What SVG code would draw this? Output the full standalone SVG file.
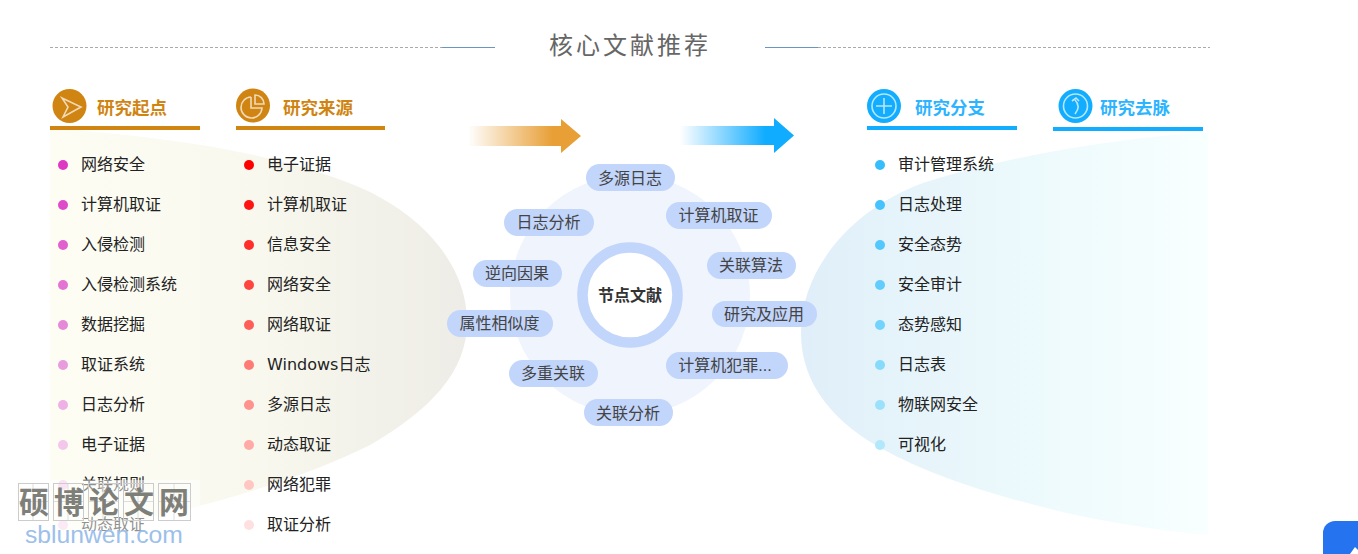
<svg xmlns="http://www.w3.org/2000/svg" width="1358" height="554" viewBox="0 0 1358 554">
<style>
text{font-family:"Liberation Sans","Noto Sans CJK SC",sans-serif}
.i{font-size:16px;fill:#222}
.h{font-size:17.500px;font-weight:700}
.o{fill:#d08411}.b{fill:#12adff}
.p{fill:#c2d5fb}
.t{font-size:16px;fill:#444;text-anchor:middle}
.w{fill:none;stroke:#ccc;stroke-width:1}
.wl{fill:none;stroke:#ddd;stroke-width:1}
.wt{font-size:30px;font-weight:700;fill:#7f7f7a;text-anchor:middle}
.ic{fill:none;stroke:#fff;stroke-opacity:.7;stroke-width:1.600}
</style>
<defs>
<linearGradient id="gl" gradientUnits="userSpaceOnUse" x1="50" x2="467" y1="0" y2="0"><stop offset="0" stop-color="#fdfdf4"/><stop offset=".5" stop-color="#f8f8ee"/><stop offset="1" stop-color="#eeece6"/></linearGradient>
<linearGradient id="gr" gradientUnits="userSpaceOnUse" x1="801" x2="1208" y1="0" y2="0"><stop offset="0" stop-color="#e0eef9"/><stop offset=".5" stop-color="#ebf9fc"/><stop offset="1" stop-color="#f8ffff"/></linearGradient>
<linearGradient id="ao" x1="0" x2="1" y1="0" y2="0"><stop offset="0" stop-color="#e89f35" stop-opacity="0"/><stop offset=".75" stop-color="#e89f35"/></linearGradient>
<linearGradient id="ab" x1="0" x2="1" y1="0" y2="0"><stop offset="0" stop-color="#10acff" stop-opacity="0"/><stop offset=".75" stop-color="#10acff"/></linearGradient>
</defs>

<g id="title">
<path d="M50 47.500H442M818 47.500H1210" stroke="#aaa" stroke-dasharray="3 2" fill="none"/>
<path d="M442 47.500H495M765 47.500H818" stroke="#6a97c0" fill="none"/>
<text x="630" y="54" font-size="24" letter-spacing="3" fill="#666" text-anchor="middle">核心文献推荐</text>
</g>

<g id="backgrounds">
<path d="M50 128C180 138 290 155 370 192C430 222 467 270 467 322C467 372 430 410 370 445C300 480 180 518 50 535Z" fill="url(#gl)"/>
<path d="M1208 132C1120 138 1010 155 923 183C850 210 801 270 801 333C801 385 835 425 890 453C960 490 1090 525 1208 535Z" fill="url(#gr)"/>
</g>

<g id="col-qidian">
<rect x="50" y="126" width="150" height="4" class="o"/>
<circle cx="69.500" cy="106" r="17" class="o"/>
<path d="M62 98L81 107L63 117L68 107Z" class="ic"/>
<text x="97" y="114" class="h o">研究起点</text>
<g id="list-qidian">
<circle cx="63" cy="165" r="5" fill="#de37c4"/><text x="81" y="170" class="i">网络安全</text>
<circle cx="63" cy="205" r="5" fill="#df4cc9"/><text x="81" y="210" class="i">计算机取证</text>
<circle cx="63" cy="245" r="5" fill="#e160ce"/><text x="81" y="250" class="i">入侵检测</text>
<circle cx="63" cy="285" r="5" fill="#e474d3"/><text x="81" y="290" class="i">入侵检测系统</text>
<circle cx="63" cy="325" r="5" fill="#e688d8"/><text x="81" y="330" class="i">数据挖掘</text>
<circle cx="63" cy="365" r="5" fill="#e99cdd"/><text x="81" y="370" class="i">取证系统</text>
<circle cx="63" cy="405" r="5" fill="#efb0e6"/><text x="81" y="410" class="i">日志分析</text>
<circle cx="63" cy="445" r="5" fill="#f4c6ec"/><text x="81" y="450" class="i">电子证据</text>
<circle cx="63" cy="485" r="5" fill="#f4c6e8"/><text x="81" y="490" class="i">关联规则</text>
<circle cx="63" cy="525" r="5" fill="#f6d2ea"/><text x="81" y="530" class="i">动态取证</text>
</g>
</g>

<g id="col-laiyuan">
<rect x="236" y="126" width="149" height="4" class="o"/>
<circle cx="253" cy="105.500" r="17" class="o"/>
<path d="M251 97A10.500 10.500 0 1 0 262 108H251V97M255 95A9 9 0 0 1 264 104H255Z" class="ic"/>
<text x="283" y="114" class="h o">研究来源</text>
<circle cx="249" cy="165" r="5" fill="#ff0000"/><text x="267" y="170" class="i">电子证据</text>
<circle cx="249" cy="205" r="5" fill="#ff1414"/><text x="267" y="210" class="i">计算机取证</text>
<circle cx="249" cy="245" r="5" fill="#ff2e2a"/><text x="267" y="250" class="i">信息安全</text>
<circle cx="249" cy="285" r="5" fill="#ff4540"/><text x="267" y="290" class="i">网络安全</text>
<circle cx="249" cy="325" r="5" fill="#ff5e58"/><text x="267" y="330" class="i">网络取证</text>
<circle cx="249" cy="365" r="5" fill="#ff7a74"/><text x="267" y="370" class="i"><tspan font-family="DejaVu Sans">Windows</tspan>日志</text>
<circle cx="249" cy="405" r="5" fill="#ff928c"/><text x="267" y="410" class="i">多源日志</text>
<circle cx="249" cy="445" r="5" fill="#ffaaa6"/><text x="267" y="450" class="i">动态取证</text>
<circle cx="249" cy="485" r="5" fill="#ffc6c2"/><text x="267" y="490" class="i">网络犯罪</text>
<circle cx="249" cy="525" r="5" fill="#ffe0e0"/><text x="267" y="530" class="i">取证分析</text>
</g>

<g id="connectors">
<path d="M468 126H561V119L581 136L561 153V146H468Z" fill="url(#ao)"/>
<path d="M680 126H774V118L794 135.500L774 153V145H680Z" fill="url(#ab)"/>
</g>

<g id="hub">
<circle cx="630" cy="295" r="120" fill="#eff4fd"/>
<circle cx="630" cy="295" r="47.500" fill="#fff" stroke="#c2d5fb" stroke-width="10.500"/>
<text x="630" y="301" font-size="16" font-weight="700" fill="#333" text-anchor="middle">节点文献</text>
</g>
<g id="n1"><rect x="586" y="164" width="89" height="27" rx="13.500" class="p"/><text x="630" y="184" class="t">多源日志</text></g>
<g id="n2"><rect x="666" y="202" width="106" height="27" rx="13.500" class="p"/><text x="718.500" y="221" class="t">计算机取证</text></g>
<g id="n3"><rect x="504" y="209" width="90" height="27" rx="13.500" class="p"/><text x="548.500" y="228" class="t">日志分析</text></g>
<g id="n4"><rect x="707" y="252" width="89" height="27" rx="13.500" class="p"/><text x="751" y="271" class="t">关联算法</text></g>
<g id="n5"><rect x="473" y="260" width="89" height="27" rx="13.500" class="p"/><text x="517" y="279" class="t">逆向因果</text></g>
<g id="n6"><rect x="712" y="301" width="105" height="26" rx="13" class="p"/><text x="764" y="320" class="t">研究及应用</text></g>
<g id="n7"><rect x="447" y="310" width="106" height="27" rx="13.500" class="p"/><text x="499.500" y="329" class="t">属性相似度</text></g>
<g id="n8"><rect x="666" y="352" width="122" height="27" rx="13.500" class="p"/><text x="725" y="371" class="t">计算机犯罪...</text></g>
<g id="n9"><rect x="509" y="360" width="89" height="27" rx="13.500" class="p"/><text x="553" y="379" class="t">多重关联</text></g>
<g id="n10"><rect x="584" y="399" width="89" height="27" rx="13.500" class="p"/><text x="628" y="419" class="t">关联分析</text></g>

<g id="col-fenzhi">
<rect x="867" y="126" width="150" height="4" class="b"/>
<circle cx="884" cy="106" r="17" class="b"/>
<circle cx="884" cy="106" r="12" class="ic"/><path d="M884 98V114M876 106H892" class="ic"/>
<text x="915" y="114" class="h" fill="#2db4ff">研究分支</text>
<circle cx="880" cy="165" r="5" fill="#38bdfb"/><text x="898" y="170" class="i">审计管理系统</text>
<circle cx="880" cy="205" r="5" fill="#46c3fd"/><text x="898" y="210" class="i">日志处理</text>
<circle cx="880" cy="245" r="5" fill="#52c8fd"/><text x="898" y="250" class="i">安全态势</text>
<circle cx="880" cy="285" r="5" fill="#62cdfc"/><text x="898" y="290" class="i">安全审计</text>
<circle cx="880" cy="325" r="5" fill="#72d3fc"/><text x="898" y="330" class="i">态势感知</text>
<circle cx="880" cy="365" r="5" fill="#86dafb"/><text x="898" y="370" class="i">日志表</text>
<circle cx="880" cy="405" r="5" fill="#9be1fb"/><text x="898" y="410" class="i">物联网安全</text>
<circle cx="880" cy="445" r="5" fill="#b2e8fb"/><text x="898" y="450" class="i">可视化</text>
</g>

<g id="col-qumai">
<rect x="1053" y="127" width="150" height="4" class="b"/>
<circle cx="1075.500" cy="106" r="17" class="b"/>
<circle cx="1075.500" cy="106" r="12" class="ic"/><path d="M1075 114C1079 109 1079 104 1075 100M1072 101L1076 98L1079 101" class="ic"/>
<text x="1100" y="114" class="h" fill="#2db4ff">研究去脉</text>
</g>

<g id="watermark">
<rect x="15" y="480" width="185" height="68" fill="#fff" fill-opacity=".5"/>
<path d="M33 483V520M18 501.500H48M68 483V520M53 501.500H83M103 483V520M88 501.500H118M138 483V520M123 501.500H153M174 483V520M158 501.500H190" class="wl"/>
<rect x="18.500" y="483.500" width="30" height="37" class="w"/><rect x="53.500" y="483.500" width="30" height="37" class="w"/><rect x="88.500" y="483.500" width="30" height="37" class="w"/><rect x="123.500" y="483.500" width="30" height="37" class="w"/><rect x="158.500" y="483.500" width="32" height="37" class="w"/>
<text x="34" y="513" class="wt">硕</text><text x="69" y="513" class="wt">博</text><text x="104" y="513" class="wt">论</text><text x="139" y="513" class="wt">文</text><text x="174" y="513" class="wt">网</text>
<text x="25" y="543" font-size="24.700" fill="#9cc0ea">sblunwen.com</text>
</g>

<g id="corner"><path d="M1358 521H1335A12 12 0 0 0 1323 533V554H1358Z" fill="#2673ef"/><path d="M1350 554L1355 547L1358 550V554Z" fill="#fff"/></g>
</svg>
